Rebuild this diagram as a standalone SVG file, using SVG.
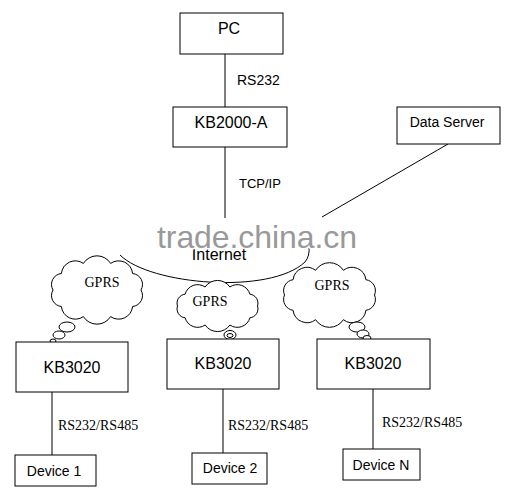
<svg xmlns="http://www.w3.org/2000/svg" width="511" height="497" viewBox="0 0 511 497">
<style>
.box{fill:#fff;stroke:#000;stroke-width:1}
.ln{fill:none;stroke:#000;stroke-width:1}
.cl{fill:#fff;stroke:#000;stroke-width:1}
.t{font-family:"Liberation Sans",Arial,sans-serif;fill:#000;text-anchor:middle}
.s{font-family:"Liberation Serif","Times New Roman",serif;fill:#000;font-size:14px}
.lab{font-family:"Liberation Sans",Arial,sans-serif;fill:#000;font-size:14px}
</style>
<rect width="511" height="497" fill="#fff"/>
<g id="connectors">
<line class="ln" x1="225" y1="54" x2="225" y2="107"/>
<line class="ln" x1="225" y1="147" x2="225" y2="218"/>
<line class="ln" x1="448" y1="144" x2="322" y2="217"/>
<line class="ln" x1="52" y1="392" x2="52" y2="455"/>
<line class="ln" x1="223" y1="389" x2="223" y2="453"/>
<line class="ln" x1="373" y1="389" x2="373" y2="449"/>
<text class="lab" x="237" y="85">RS232</text>
<text class="lab" x="239" y="188" style="font-size:13px">TCP/IP</text>
<text class="s" x="58" y="430">RS232/RS485</text>
<text class="s" x="228" y="430">RS232/RS485</text>
<text class="s" x="382" y="427">RS232/RS485</text>
</g>
<g id="internet">
<path class="ln" d="M120,255 C150,285 270,295 305,262 Q310,256 309,246"/>
<text class="t" x="219" y="260" style="font-size:16px">Internet</text>
</g>
<g id="pc">
<rect class="box" x="180" y="13" width="103" height="41"/>
<text class="t" x="229" y="34" style="font-size:16px">PC</text>
</g>
<g id="kb2000a">
<rect class="box" x="173" y="107" width="114" height="40"/>
<text class="t" x="231" y="128" style="font-size:16px">KB2000-A</text>
</g>
<g id="dataserver">
<rect class="box" x="397" y="107" width="103" height="37"/>
<text class="t" x="447" y="127" style="font-size:14px">Data Server</text>
</g>
<g id="gprs1">
<path class="cl" d="M141,290 A11,11 0 0 1 132.6,306.5 A14,14 0 0 1 110.6,316.6 A16,16 0 0 1 83.4,316.6 A14,14 0 0 1 61.4,306.5 A11,11 0 0 1 53,290 A11,11 0 0 1 61.4,273.5 A14,14 0 0 1 83.4,263.4 A16,16 0 0 1 110.6,263.4 A14,14 0 0 1 132.6,273.5 A11,11 0 0 1 141,290 Z"/>
<ellipse class="cl" cx="67" cy="327" rx="8" ry="5"/>
<ellipse class="cl" cx="59" cy="335" rx="6" ry="4"/>
<ellipse class="cl" cx="53" cy="341" rx="3" ry="2"/>
<text class="s" x="102" y="287" text-anchor="middle">GPRS</text>
</g>
<g id="gprs2">
<path class="cl" d="M257.5,306 A9,9 0 0 1 249.9,317.8 A13,13 0 0 1 229.9,325 A15,15 0 0 1 205.1,325 A13,13 0 0 1 185.1,317.8 A9,9 0 0 1 177.5,306 A9,9 0 0 1 185.1,294.2 A13,13 0 0 1 205.1,287 A15,15 0 0 1 229.9,287 A13,13 0 0 1 249.9,294.2 A9,9 0 0 1 257.5,306 Z"/>
<ellipse class="cl" cx="230" cy="335" rx="6" ry="4.5"/>
<ellipse class="cl" cx="230" cy="335.5" rx="3" ry="2"/>
<text class="s" x="210" y="306" text-anchor="middle">GPRS</text>
</g>
<g id="gprs3">
<path class="cl" d="M374.5,295 A11,11 0 0 1 365.9,310.3 A14,14 0 0 1 343.4,319.7 A16.5,16.5 0 0 1 315.6,319.7 A14,14 0 0 1 293.1,310.3 A11,11 0 0 1 284.5,295 A11,11 0 0 1 293.1,279.7 A14,14 0 0 1 315.6,270.3 A16.5,16.5 0 0 1 343.4,270.3 A14,14 0 0 1 365.9,279.7 A11,11 0 0 1 374.5,295 Z"/>
<ellipse class="cl" cx="357" cy="327" rx="8" ry="5"/>
<ellipse class="cl" cx="363" cy="334" rx="6" ry="4"/>
<ellipse class="cl" cx="367" cy="338" rx="4" ry="2.5"/>
<text class="s" x="332" y="290" text-anchor="middle">GPRS</text>
</g>
<g id="kb3020-1">
<rect class="box" x="16" y="342" width="112" height="50"/>
<text class="t" x="72" y="373" style="font-size:16px">KB3020</text>
</g>
<g id="kb3020-2">
<rect class="box" x="167" y="339" width="112" height="50"/>
<text class="t" x="223" y="369" style="font-size:16px">KB3020</text>
</g>
<g id="kb3020-3">
<rect class="box" x="317" y="339" width="113" height="50"/>
<text class="t" x="373" y="369" style="font-size:16px">KB3020</text>
</g>
<g id="device1">
<rect class="box" x="15" y="455" width="81" height="31"/>
<text class="t" x="54" y="476" style="font-size:14px">Device 1</text>
</g>
<g id="device2">
<rect class="box" x="192" y="453" width="75" height="31"/>
<text class="t" x="230" y="473" style="font-size:14px">Device 2</text>
</g>
<g id="deviceN">
<rect class="box" x="343" y="449" width="77" height="31"/>
<text class="t" x="381" y="470" style="font-size:14px">Device N</text>
</g>
<text x="157" y="248" style="font-family:'Liberation Sans',Arial,sans-serif;font-size:32px;fill:#999;stroke:#fff;stroke-width:3;paint-order:stroke" textLength="200">trade.china.cn</text>
</svg>
